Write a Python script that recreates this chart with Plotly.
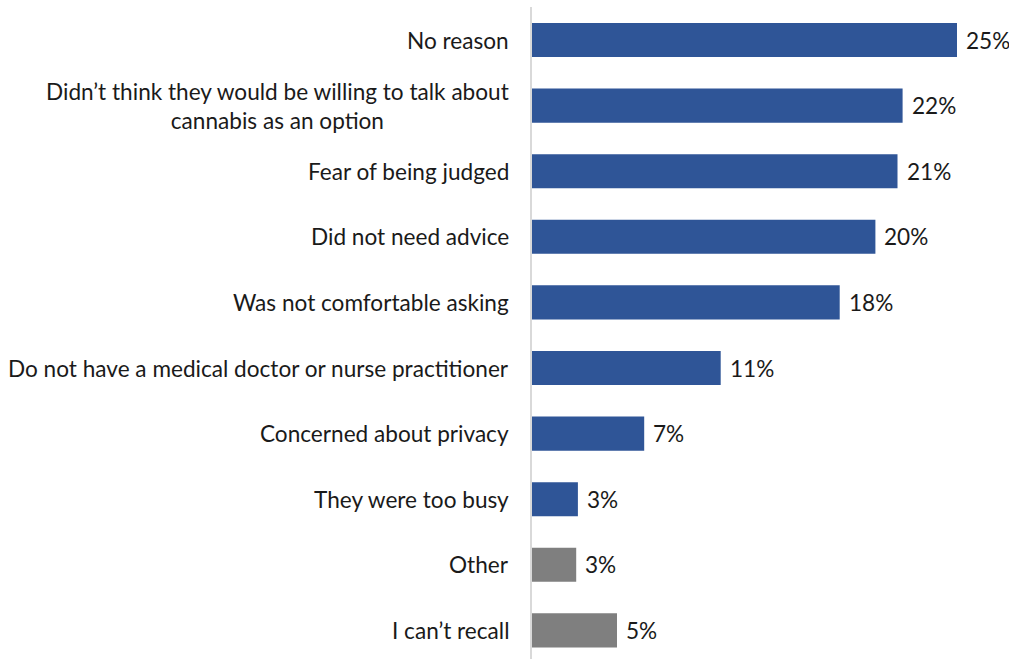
import plotly.graph_objects as go

categories = [
    "No reason",
    "Didn’t think they would be willing to talk about<br>cannabis as an option",
    "Fear of being judged",
    "Did not need advice",
    "Was not comfortable asking",
    "Do not have a medical doctor or nurse practitioner",
    "Concerned about privacy",
    "They were too busy",
    "Other",
    "I can’t recall",
]
values = [25.0, 21.8, 21.5, 20.2, 18.1, 11.1, 6.6, 2.7, 2.6, 5.0]
labels = ["25%", "22%", "21%", "20%", "18%", "11%", "7%", "3%", "3%", "5%"]
colors = ["#2F5597"] * 8 + ["#7F7F7F"] * 2

FONT = "Lato, Calibri, Carlito, sans-serif"
SIZE = 22.6

fig = go.Figure(go.Bar(
    x=values, y=list(range(len(categories))), orientation="h",
    marker=dict(color=colors, line=dict(width=0)),
    width=0.52, hoverinfo="skip",
))

for i, c in enumerate(categories):
    fig.add_annotation(
        x=0, xref="paper", y=i, yref="y", text=c, showarrow=False,
        xanchor="right", align="center", xshift=-21,
        font=dict(family=FONT, size=SIZE, color="#1a1a1a"),
    )
    fig.add_annotation(
        x=values[i], xref="x", y=i, yref="y", text=labels[i], showarrow=False,
        xanchor="left", xshift=7,
        font=dict(family=FONT, size=SIZE, color="#1a1a1a"),
    )

fig.update_layout(
    width=1009, height=659,
    margin=dict(l=532, r=1, t=7, b=0),
    plot_bgcolor="white", paper_bgcolor="white",
    showlegend=False,
    xaxis=dict(range=[0, 28], showgrid=False, zeroline=False, showticklabels=False,
               showline=False),
    yaxis=dict(range=[9.436, -0.503], showgrid=False, zeroline=False, showticklabels=False,
               showline=True, linecolor="#D9D9D9", linewidth=1.5),
    font=dict(family=FONT),
)

fig.write_html("out.html", config={"displayModeBar": False},
               post_script="document.body.style.margin='0';")
